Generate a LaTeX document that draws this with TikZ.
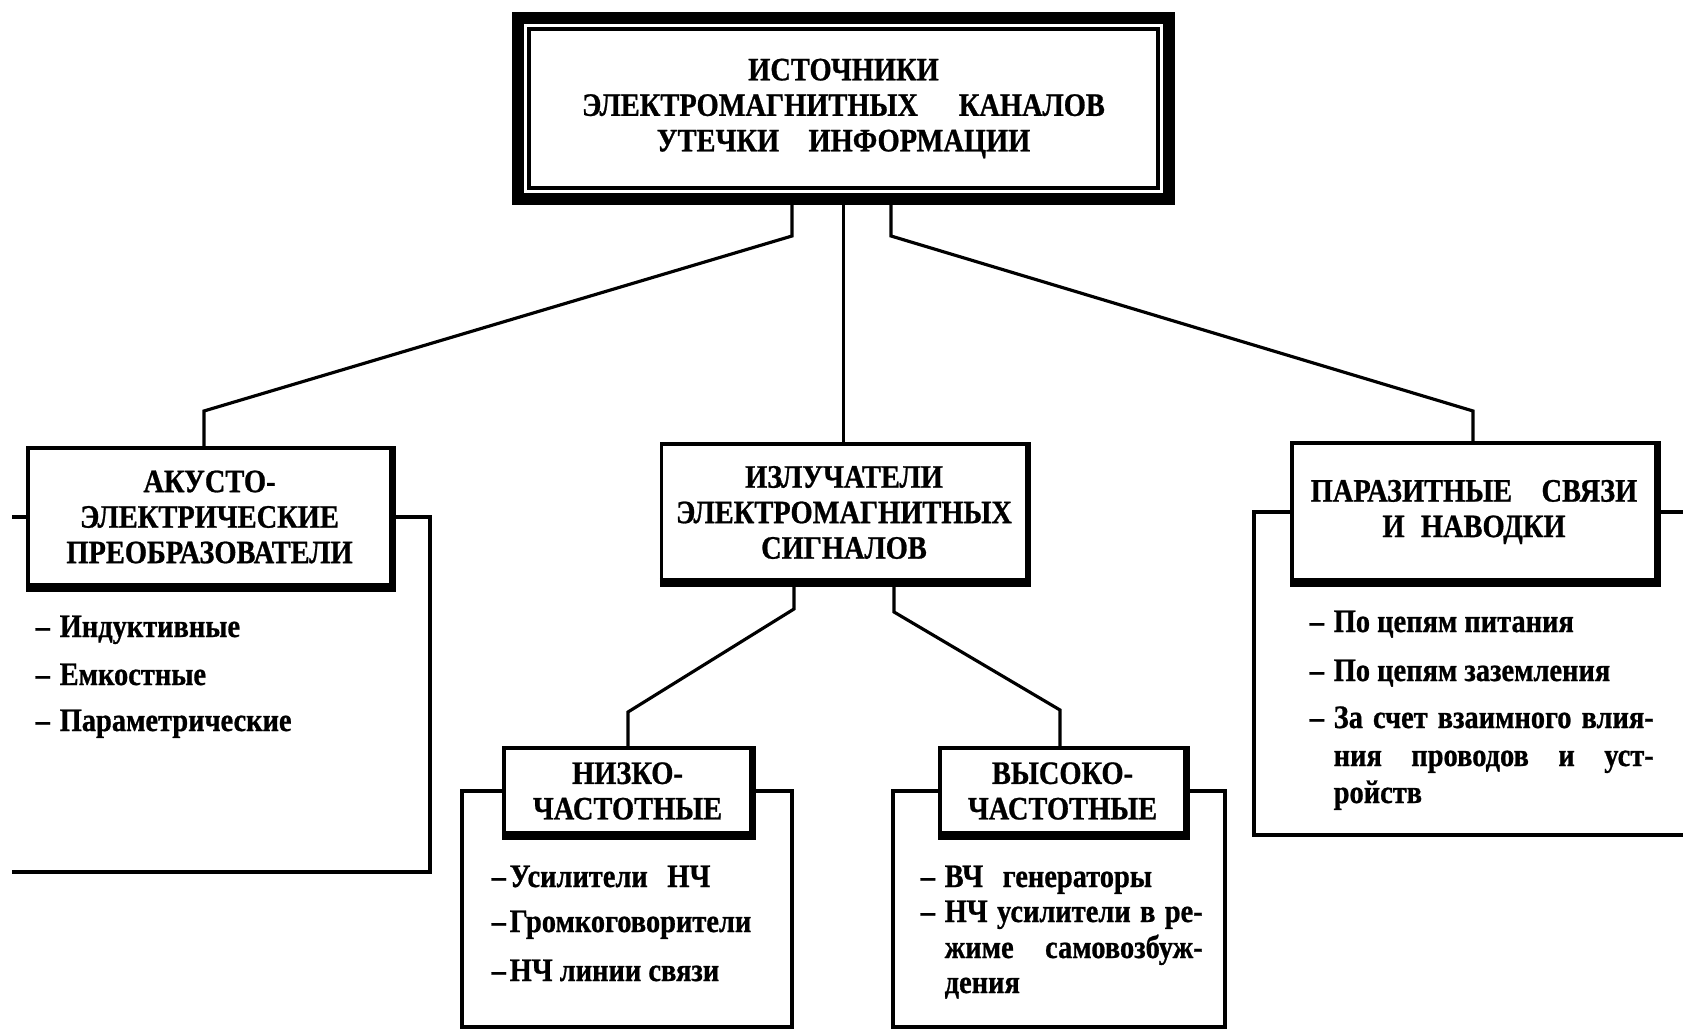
\documentclass[tikz,border=0pt]{standalone}
\usepackage{fontspec}
\setmainfont{Liberation Serif}[FakeStretch=0.87, BoldFeatures={FakeBold=0.8}]
\newcommand{\itemdash}[1][0.24cm]{\llap{\makebox[#1][l]{–}}}

\begin{document}
\begin{tikzpicture}
  [every node/.style={inner sep=0pt, font=\bfseries\fontsize{9.3}{10.1}\selectfont},
   topbox/.style={draw, line width=3.4pt, minimum width=6.51cm, minimum height=1.81cm, align=center},
   groupbox/.style={draw, line width=1pt, align=center},
   entry/.style={anchor=base west},
   link/.style={line width=0.9pt}]
  \useasboundingbox (0,0) rectangle (16.83,10.30);

  % main box with double frame
  \node[topbox] (src) at (8.435,9.215) {ИСТОЧНИКИ\\ЭЛЕКТРОМАГНИТНЫХ\hspace{1.25em}КАНАЛОВ\\УТЕЧКИ\hspace{0.9em}ИНФОРМАЦИИ};
  \draw[line width=1pt] ([shift={(0.17,-0.17)}]src.north west) rectangle ([shift={(-0.17,0.17)}]src.south east);

  % groups
  \node[groupbox, minimum width=3.63cm, minimum height=1.38cm] (akus) at (2.095,5.13) {АКУСТО-\\ЭЛЕКТРИЧЕСКИЕ\\ПРЕОБРАЗОВАТЕЛИ};
  \node[groupbox, minimum width=3.65cm, minimum height=1.37cm] (izl) at (8.44,5.175) {ИЗЛУЧАТЕЛИ\\ЭЛЕКТРОМАГНИТНЫХ\\СИГНАЛОВ};
  \node[groupbox, minimum width=3.64cm, minimum height=1.38cm] (paraz) at (14.74,5.18) {ПАРАЗИТНЫЕ\hspace{0.9em}СВЯЗИ\\И\hspace{0.5em}НАВОДКИ};
  \node[groupbox, minimum width=2.47cm, minimum height=0.86cm] (nizk) at (6.275,2.39) {НИЗКО-\\ЧАСТОТНЫЕ};
  \node[groupbox, minimum width=2.45cm, minimum height=0.86cm] (vys) at (10.625,2.39) {ВЫСОКО-\\ЧАСТОТНЫЕ};

  % heavy right and bottom edges
  \draw[line width=1.7pt] (akus.north east) -- ([yshift=-1.3pt]akus.south east);
  \draw[line width=2.6pt] (akus.south west) -- (akus.south east);
  \draw[line width=1.7pt] (izl.north east) -- ([yshift=-1.3pt]izl.south east);
  \draw[line width=2.6pt] (izl.south west) -- (izl.south east);
  \draw[line width=1.7pt] (paraz.north east) -- ([yshift=-1.3pt]paraz.south east);
  \draw[line width=2.6pt] (paraz.south west) -- (paraz.south east);
  \draw[line width=1.7pt] (nizk.north east) -- ([yshift=-1.3pt]nizk.south east);
  \draw[line width=2.6pt] (nizk.south west) -- (nizk.south east);
  \draw[line width=1.7pt] (vys.north east) -- ([yshift=-1.3pt]vys.south east);
  \draw[line width=2.6pt] (vys.south west) -- (vys.south east);

  % tree lines
  \coordinate (s1) at (7.92,7.94);
  \coordinate (s2) at (2.04,6.19);
  \coordinate (s3) at (8.91,7.94);
  \coordinate (s4) at (14.73,6.19);
  \coordinate (s5) at (7.94,4.21);
  \coordinate (s6) at (6.28,3.18);
  \coordinate (s7) at (8.94,4.18);
  \coordinate (s8) at (10.60,3.20);

  \draw[link] (src.south -| s1) -- (s1) -- (s2) -- (s2 |- akus.north);
  \draw[link] (src.south) -- (src.south |- izl.north);
  \draw[link] (src.south -| s3) -- (s3) -- (s4) -- (s4 |- paraz.north);
  \draw[link] (izl.south -| s5) -- (s5) -- (s6) -- (s6 |- nizk.north);
  \draw[link] (izl.south -| s7) -- (s7) -- (s8) -- (s8 |- vys.north);

  % frames round the lists
  \coordinate (aL) at (0.12,5.13);
  \coordinate (aR) at (4.30,1.58);
  \coordinate (aB) at (0.12,1.58);
  \coordinate (cL) at (4.62,0.03);
  \coordinate (cR) at (7.92,0.03);
  \coordinate (dL) at (8.93,0.03);
  \coordinate (dR) at (12.25,0.03);
  \coordinate (eL) at (12.54,1.95);
  \coordinate (eR) at (16.83,1.95);

  \draw[link] (akus.west) -- (akus.west -| aL);
  \draw[link] (akus.east) -- (akus.east -| aR) -- (aR) -- (aB);
  \draw[link] (nizk.west) -- (nizk.west -| cL) -- (cL) -- (cR) -- (nizk.east -| cR) -- (nizk.east);
  \draw[link] (vys.west) -- (vys.west -| dL) -- (dL) -- (dR) -- (vys.east -| dR) -- (vys.east);
  \draw[link] (paraz.west) -- (paraz.west -| eL) -- (eL) -- (eR);
  \draw[link] (paraz.east) -- (paraz.east -| eR);

  % lists
  \node[entry] (a1) at (0.59,3.93) {\itemdash Индуктивные};
  \node[entry] (a2) at (0.59,3.45) {\itemdash Емкостные};
  \node[entry] (a3) at (0.59,2.99) {\itemdash Параметрические};

  \node[entry] (c1) at (5.09,1.43) {\itemdash[0.18cm]Усилители\hspace{0.6em}НЧ};
  \node[entry] (c2) at (5.09,0.98) {\itemdash[0.18cm]Громкоговорители};
  \node[entry] (c3) at (5.09,0.49) {\itemdash[0.18cm]НЧ линии связи};

  \node[entry] (d1) at (9.44,1.43) {\itemdash ВЧ\hspace{0.6em}генераторы};
  \node[entry] (d2) at (9.44,1.08) {\itemdash\makebox[2.58cm][s]{НЧ усилители в ре-}};
  \node[entry] (d3) at (9.44,0.72) {\makebox[2.58cm][s]{жиме самовозбуж-}};
  \node[entry] (d4) at (9.44,0.37) {дения};

  \node[entry] (e1) at (13.33,3.98) {\itemdash По цепям питания};
  \node[entry] (e2) at (13.33,3.49) {\itemdash По цепям заземления};
  \node[entry] (e3) at (13.33,3.02) {\itemdash\makebox[3.2cm][s]{За счет взаимного влия-}};
  \node[entry] (e4) at (13.33,2.64) {\makebox[3.2cm][s]{ния проводов и уст-}};
  \node[entry] (e5) at (13.33,2.27) {ройств};

\end{tikzpicture}
\end{document}
